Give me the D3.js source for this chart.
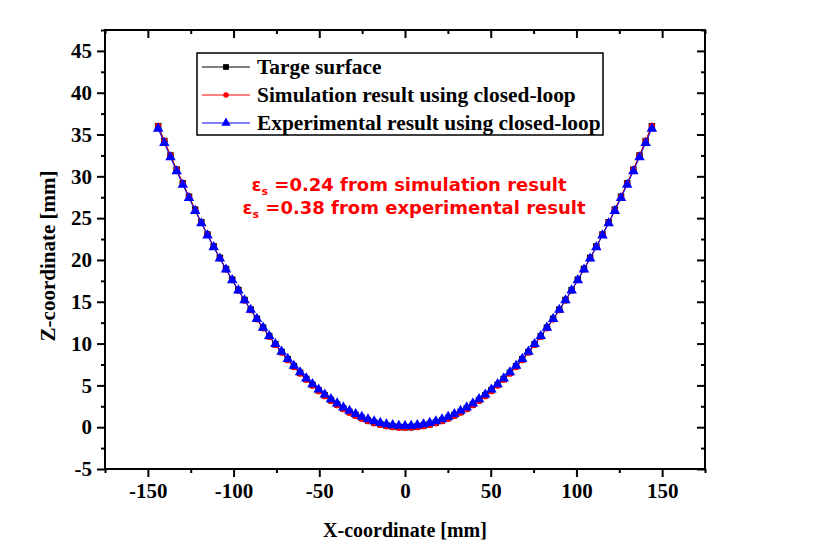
<!DOCTYPE html>
<html><head><meta charset="utf-8">
<script src="https://cdn.jsdelivr.net/npm/d3@7"></script>
<style>body{margin:0;background:#fff}</style>
</head><body>
<svg id="c" width="821" height="555"></svg>
<script>
const xValues = [-144,-140.4,-136.8,-133.2,-129.6,-126,-122.4,-118.8,-115.2,-111.6,-108,-104.4,-100.8,-97.2,-93.6,-90,-86.4,-82.8,-79.2,-75.6,-72,-68.4,-64.8,-61.2,-57.6,-54,-50.4,-46.8,-43.2,-39.6,-36,-32.4,-28.8,-25.2,-21.6,-18,-14.4,-10.8,-7.2,-3.6,0,3.6,7.2,10.8,14.4,18,21.6,25.2,28.8,32.4,36,39.6,43.2,46.8,50.4,54,57.6,61.2,64.8,68.4,72,75.6,79.2,82.8,86.4,90,93.6,97.2,100.8,104.4,108,111.6,115.2,118.8,122.4,126,129.6,133.2,136.8,140.4,144];
const targetZ = [36.00,34.22,32.49,30.80,29.16,27.56,26.01,24.50,23.04,21.62,20.25,18.92,17.64,16.40,15.21,14.06,12.96,11.90,10.89,9.92,9.00,8.12,7.29,6.50,5.76,5.06,4.41,3.80,3.24,2.72,2.25,1.82,1.44,1.10,0.81,0.56,0.36,0.20,0.09,0.02,0.00,0.02,0.09,0.20,0.36,0.56,0.81,1.10,1.44,1.82,2.25,2.72,3.24,3.80,4.41,5.06,5.76,6.50,7.29,8.12,9.00,9.92,10.89,11.90,12.96,14.06,15.21,16.40,17.64,18.92,20.25,21.62,23.04,24.50,26.01,27.56,29.16,30.80,32.49,34.22,36.00];
const simulationZ = [36.05,34.25,32.51,30.81,29.16,27.55,26.00,24.48,23.02,21.59,20.21,18.88,17.59,16.35,15.15,13.99,12.89,11.82,10.81,9.83,8.91,8.02,7.19,6.40,5.66,4.96,4.31,3.70,3.14,2.62,2.15,1.72,1.34,1.00,0.71,0.46,0.26,0.10,-0.01,-0.08,-0.10,-0.08,-0.01,0.10,0.26,0.46,0.71,1.00,1.34,1.72,2.15,2.62,3.14,3.70,4.31,4.96,5.66,6.40,7.19,8.02,8.91,9.83,10.81,11.82,12.89,13.99,15.15,16.35,17.59,18.88,20.21,21.59,23.02,24.48,26.00,27.55,29.16,30.81,32.51,34.25,36.05];
const experimentalZ = [35.70,33.99,32.28,30.61,28.99,27.41,25.87,24.38,22.93,21.53,20.17,18.85,17.58,16.36,15.18,14.04,12.95,11.91,10.91,9.95,9.04,8.17,7.35,6.57,5.84,5.15,4.51,3.91,3.35,2.84,2.37,1.96,1.58,1.24,0.95,0.71,0.51,0.35,0.24,0.17,0.15,0.17,0.24,0.35,0.51,0.71,0.95,1.24,1.58,1.96,2.37,2.84,3.35,3.91,4.51,5.15,5.84,6.57,7.35,8.17,9.04,9.95,10.91,11.91,12.95,14.04,15.18,16.36,17.58,18.85,20.17,21.53,22.93,24.38,25.87,27.41,28.99,30.61,32.28,33.99,35.70];
const seriesNames = ["Targe surface","Simulation result using closed-loop","Experimental result using closed-loop"];
const xTicks = [-150,-100,-50,0,50,100,150];
const yTicks = [-5,0,5,10,15,20,25,30,35,40,45];
const xMinor = [-175,-125,-75,-25,25,75,125,175];
const yMinor = [-2.5,2.5,7.5,12.5,17.5,22.5,27.5,32.5,37.5,42.5,47.5];
const annotations = ["=0.24 from simulation result","=0.38 from experimental result"];

const svg = d3.select("#c");
const L=105,R=705,T=30,B=469;
const x = d3.scaleLinear().domain([-175,175]).range([L,R]);
const y = d3.scaleLinear().domain([-5,47.5]).range([B,T]);
const serif = "'Liberation Serif','Times New Roman',serif";

const gx = svg.append("g").attr("transform",`translate(0,${B})`)
  .call(d3.axisBottom(x).tickValues(xTicks).tickSize(8).tickPadding(6).tickFormat(d3.format("d")));
const gxm = svg.append("g").attr("transform",`translate(0,${B})`)
  .call(d3.axisBottom(x).tickValues(xMinor).tickSize(4).tickFormat(""));
const gy = svg.append("g").attr("transform",`translate(${L},0)`)
  .call(d3.axisLeft(y).tickValues(yTicks).tickSize(8).tickPadding(5).tickFormat(d3.format("d")));
const gym = svg.append("g").attr("transform",`translate(${L},0)`)
  .call(d3.axisLeft(y).tickValues(yMinor).tickSize(4).tickFormat(""));
const gt = svg.append("g").attr("transform",`translate(0,${T})`)
  .call(d3.axisBottom(x).tickValues(xTicks).tickSize(8).tickFormat(""));
const gtm = svg.append("g").attr("transform",`translate(0,${T})`)
  .call(d3.axisBottom(x).tickValues(xMinor).tickSize(4).tickFormat(""));
const gr = svg.append("g").attr("transform",`translate(${R},0)`)
  .call(d3.axisLeft(y).tickValues(yTicks).tickSize(8).tickFormat(""));
const grm = svg.append("g").attr("transform",`translate(${R},0)`)
  .call(d3.axisLeft(y).tickValues(yMinor).tickSize(4).tickFormat(""));
[gx,gxm,gy,gym,gt,gtm,gr,grm].forEach(g=>{
  g.select(".domain").remove();
  g.selectAll("line").attr("stroke","#000").attr("stroke-width",2);
  g.selectAll("text").attr("font-family",serif).attr("font-weight","bold").attr("font-size",21).attr("fill","#000");
});
gx.selectAll("text").text(d=>d<0?"-"+Math.abs(d):d);
gy.selectAll("text").text(d=>d<0?"-"+Math.abs(d):d);
svg.append("rect").attr("x",L).attr("y",T).attr("width",R-L).attr("height",B-T)
  .attr("fill","none").attr("stroke","#000").attr("stroke-width",2);

svg.append("text").attr("x",(L+R)/2).attr("y",537).attr("text-anchor","middle")
  .attr("font-family",serif).attr("font-weight","bold").attr("font-size",20).text("X-coordinate [mm]");
svg.append("text").attr("transform",`translate(55,256) rotate(-90)`).attr("text-anchor","middle")
  .attr("font-family",serif).attr("font-weight","bold").attr("font-size",21).text("Z-coordinate [mm]");

const colors=["#000","#f00","#00f"];
const datasets=[targetZ,simulationZ,experimentalZ].map(a=>a.map((z,i)=>({x:xValues[i],z})));
const line=d3.line().x(d=>x(d.x)).y(d=>y(d.z));
const sym=[d3.symbolSquare,d3.symbolCircle,d3.symbolTriangle];
const sz=[42,30,48];
datasets.forEach((ds,k)=>{
  svg.append("path").datum(ds).attr("d",line).attr("fill","none").attr("stroke",colors[k]).attr("stroke-width",1);
  svg.append("g").selectAll("path").data(ds).join("path")
    .attr("transform",d=>`translate(${x(d.x)},${y(d.z)})`)
    .attr("d",d3.symbol().type(sym[k]).size(sz[k])).attr("fill",colors[k]);
});

const lg=svg.append("g");
lg.append("rect").attr("x",197).attr("y",53).attr("width",406).attr("height",82)
  .attr("fill","#fff").attr("stroke","#000").attr("stroke-width",1.5);
seriesNames.forEach((n,k)=>{
  const yy=67+k*28;
  lg.append("line").attr("x1",202).attr("x2",250).attr("y1",yy).attr("y2",yy).attr("stroke",colors[k]).attr("stroke-width",1);
  lg.append("path").attr("transform",`translate(226,${yy})`).attr("d",d3.symbol().type(sym[k]).size(sz[k]*0.8)).attr("fill",colors[k]);
  lg.append("text").attr("x",257).attr("y",yy+7).attr("font-family",serif).attr("font-weight","bold")
    .attr("font-size",21.4).text(n);
});

annotations.forEach((t,k)=>{
  const tx=svg.append("text").attr("x",[409,414][k]).attr("y",191+k*23).attr("text-anchor","middle")
    .attr("font-family","'DejaVu Sans',Verdana,sans-serif").attr("font-weight","bold").attr("font-size",18).attr("fill","#f00");
  tx.append("tspan").text("ε");
  tx.append("tspan").attr("font-size",11).attr("dy",4).text("s");
  tx.append("tspan").attr("dy",-4).text(" "+t);
});
</script>
</body></html>
